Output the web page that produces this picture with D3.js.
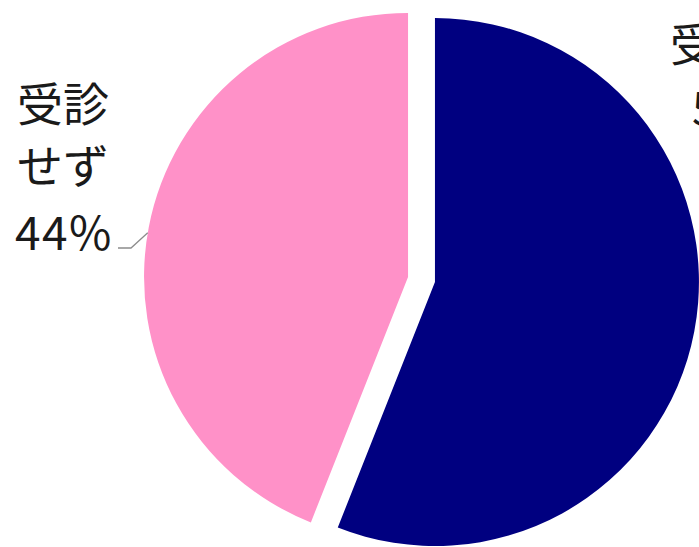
<!DOCTYPE html>
<html>
<head>
<meta charset="utf-8">
<script src="https://cdn.jsdelivr.net/npm/d3@7"></script>
<style>
  html, body { margin: 0; padding: 0; background: #ffffff; overflow: hidden; }
  svg { display: block; }
</style>
</head>
<body>
<div id="chart"></div>
<script>
// Consultation share: visited a doctor vs. did not
const categories = ["受診", "受診せず"];
const values = [56, 44];
const colors = ["#000080", "#FF91C8"];
// Label lines per slice
const labelLines = [["受診", "56%"], ["受診", "せず", "44%"]];

const width = 699, height = 547;
const cx = 421.5, cy = 279.5;
const radius = 264;
const explode = 13.7;

const svg = d3.select("#chart").append("svg")
  .attr("width", width).attr("height", height);

const pie = d3.pie().sort(null).value(d => d.value);
const arcs = pie(categories.map((c, i) => ({ name: c, value: values[i], color: colors[i] })));

const arc = d3.arc().innerRadius(0).outerRadius(radius);

const g = svg.append("g").attr("transform", `translate(${cx},${cy})`);

g.selectAll("path.slice")
  .data(arcs)
  .join("path")
  .attr("class", "slice")
  .attr("fill", d => d.data.color)
  .attr("transform", d => {
    const a = (d.startAngle + d.endAngle) / 2;
    return `translate(${Math.sin(a) * explode},${-Math.cos(a) * explode})`;
  })
  .attr("d", arc);

// Labels
const fontFamily = "'Noto Sans CJK JP', 'Noto Sans', sans-serif";
const labelPos = [
  { lines: [{ x: 670, y: 61 }, { x: 692, y: 125 }] },
  { lines: [{ x: 17, y: 121 }, { x: 17, y: 183 }, { x: 15, y: 250 }] }
];

labelLines.forEach((lines, i) => {
  lines.forEach((t, j) => {
    svg.append("text")
      .attr("x", labelPos[i].lines[j].x)
      .attr("y", labelPos[i].lines[j].y)
      .attr("font-family", fontFamily)
      .attr("font-size", 46)
      .attr("letter-spacing", /%/.test(t) ? 1.5 : 0)
      .attr("fill", "#1a1a1a")
      .text(t);
  });
});

// Leader line for the smaller slice, ending on its rim
const pinkArc = arcs[1];
const pa = (pinkArc.startAngle + pinkArc.endAngle) / 2;
const pcx = cx + Math.sin(pa) * explode, pcy = cy - Math.cos(pa) * explode;
const edgeAngle = 2 * Math.PI - Math.acos(0.167);
const ex = pcx + Math.sin(edgeAngle) * radius;
const ey = pcy - Math.cos(edgeAngle) * radius;
svg.append("path")
  .attr("d", d3.line()([[118, 248], [131, 248], [ex, ey]]))
  .attr("fill", "none")
  .attr("stroke", "#8c8c8c")
  .attr("stroke-width", 1.3);
</script>
</body>
</html>
